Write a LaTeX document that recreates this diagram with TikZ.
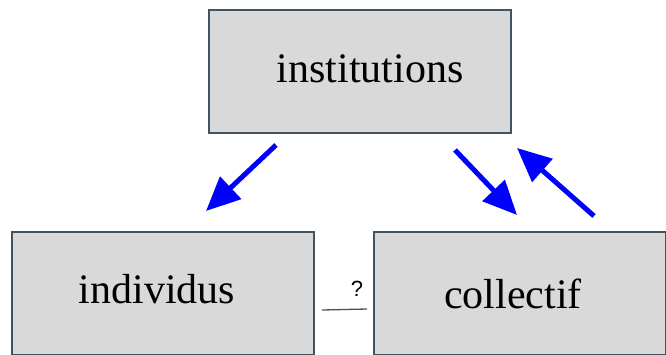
\documentclass[tikz,border=0pt]{standalone}
\usepackage{fontspec}
\setmainfont{Liberation Serif}
\newfontfamily\qfont{Liberation Sans}
\usetikzlibrary{arrows.meta, positioning}
\definecolor{boxgray}{HTML}{D9D9D9}
\definecolor{boxedge}{HTML}{44525E}

\begin{document}
\begin{tikzpicture}[x=1pt, y=-1pt,
					box/.style={rectangle, minimum width=302pt, minimum height=123pt, draw=boxedge, line width=1.2pt, fill=boxgray, inner sep=0pt},
					word/.style={font=\fontsize{42}{48}\selectfont, inner sep=0pt},
					arrow/.style={-{Triangle[length=34pt, width=30pt]}, line width=5pt, blue}
					]
					\useasboundingbox (0,0) rectangle (666,354);
					\clip (0,0) rectangle (666,354);
					\node (inst) [box] at (360,71.5) {};
					\node (indiv) [box] at (163,293.5) {};
					\node (coll) [box, minimum width=292pt] at (520,293.5) {};
					\node (instT) [word] at ([xshift=10pt, yshift=3pt] inst.center) {institutions};
					\node (indivT) [word] at ([xshift=-6pt, yshift=4pt] indiv.center) {individus};
					\node (collT) [word] at ([xshift=-7pt] coll.center) {collectif};
					
					\coordinate (a1s) at (276,145);
					\coordinate (a1e) at (206,211);
					\coordinate (a2s) at (455,150);
					\coordinate (a2e) at (517,215);
					\coordinate (a3s) at (594,216);
					\coordinate (a3e) at (517,148);
					\coordinate (ls) at (322,310);
					\coordinate (le) at (367,309);
					
					\draw [arrow] (a1s) -- (a1e);
					\draw [arrow] (a2s) -- (a2e);
					\draw [arrow] (a3s) -- (a3e);
					\draw [boxedge, line width=1.3pt] (ls) -- (le);
					\node (q) [font=\qfont\fontsize{22}{26}\selectfont, inner sep=0pt] at (357,289) {?};
				\end{tikzpicture}
\end{document}
